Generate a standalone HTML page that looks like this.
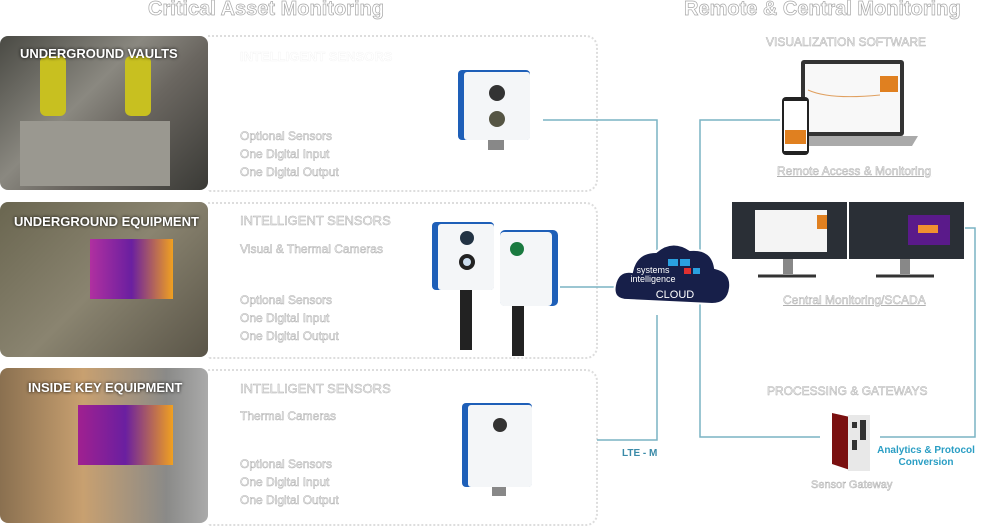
<!DOCTYPE html>
<html><head><meta charset="utf-8"><style>
body{margin:0;width:1000px;height:523px;background:#fff;overflow:hidden;position:relative;font-family:"Liberation Sans",sans-serif}
.o{position:absolute;color:#fff;-webkit-text-stroke:0.7px #a8a8a8;font-weight:bold;white-space:nowrap}
.t{position:absolute;color:#f4f4f4;-webkit-text-stroke:0.5px #b0b0b0;font-size:12px;white-space:nowrap;line-height:18px}
.lbl{position:absolute;color:#fff;font-weight:bold;font-size:13px;text-shadow:0 0 3px #000;white-space:nowrap}
.box{position:absolute;border:2px dotted #ddd;border-left:none;border-radius:0 12px 12px 0}
.photo{position:absolute;left:0;width:208px;border-radius:8px;overflow:hidden}
.u{text-decoration:underline}
</style></head><body>
<div class="o" style="left:148px;top:-2px;font-size:20px">Critical Asset Monitoring</div>
<div class="o" style="left:684px;top:-2px;font-size:20px">Remote &amp; Central Monitoring</div>

<div class="box" style="left:208px;top:35px;width:388px;height:153px"></div>
<div class="box" style="left:208px;top:202px;width:388px;height:153px"></div>
<div class="box" style="left:208px;top:369px;width:388px;height:153px"></div>

<div class="photo" style="top:36px;height:154px;background:linear-gradient(135deg,#4a4a44,#8a8880 40%,#6a6660 60%,#3a3a36)">
 <div style="position:absolute;left:40px;top:20px;width:26px;height:60px;background:#c8c020;border-radius:6px"></div>
 <div style="position:absolute;left:125px;top:20px;width:26px;height:60px;background:#c8c020;border-radius:6px"></div>
 <div style="position:absolute;left:20px;top:85px;width:150px;height:65px;background:#9a9890"></div>
</div>
<div class="lbl" style="left:20px;top:46px">UNDERGROUND VAULTS</div>
<div class="photo" style="top:202px;height:155px;background:linear-gradient(135deg,#6a6650,#8a8470 50%,#5a5548)">
 <div style="position:absolute;left:90px;top:37px;width:83px;height:60px;background:linear-gradient(90deg,#b030a0,#6a1fa0 50%,#f0a020)"></div>
</div>
<div class="lbl" style="left:14px;top:214px">UNDERGROUND EQUIPMENT</div>
<div class="photo" style="top:368px;height:155px;background:linear-gradient(90deg,#8a7050,#c8a070 40%,#8a8a88 80%,#aaa)">
 <div style="position:absolute;left:78px;top:37px;width:95px;height:60px;background:linear-gradient(90deg,#a02090,#6a1fa0 50%,#f0a020)"></div>
</div>
<div class="lbl" style="left:28px;top:380px">INSIDE KEY EQUIPMENT</div>

<div class="t" style="left:240px;top:48px;font-weight:bold;font-size:13px;color:#fff;-webkit-text-stroke:0.3px #eee">INTELLIGENT SENSORS</div>
<div class="t" style="left:240px;top:127px">Optional Sensors<br>One Digital Input<br>One Digital Output</div>
<div class="t" style="left:240px;top:212px;font-size:13px">INTELLIGENT SENSORS</div>
<div class="t" style="left:240px;top:240px">Visual &amp; Thermal Cameras</div>
<div class="t" style="left:240px;top:291px">Optional Sensors<br>One Digital Input<br>One Digital Output</div>
<div class="t" style="left:240px;top:380px;font-size:13px">INTELLIGENT SENSORS</div>
<div class="t" style="left:240px;top:407px">Thermal Cameras</div>
<div class="t" style="left:240px;top:455px">Optional Sensors<br>One Digital Input<br>One Digital Output</div>

<svg width="1000" height="523" style="position:absolute;left:0;top:0">
 <g fill="none" stroke="#7ab4c4" stroke-width="1.5">
  <path d="M543 120H657V250"/><path d="M560 287H622"/><path d="M597 440H657V315"/>
  <path d="M780 120H700V437H820"/><path d="M965 228H975V437H880"/>
 </g>
 <!-- sensor 1 -->
 <rect x="458" y="70" width="72" height="70" rx="4" fill="#1e5fb8"/><rect x="464" y="72" width="66" height="68" rx="3" fill="#f4f6f8"/>
 <circle cx="497" cy="93" r="8" fill="#333"/><circle cx="497" cy="119" r="8" fill="#554"/><rect x="488" y="140" width="16" height="10" fill="#888"/>
 <!-- sensor 2 -->
 <rect x="432" y="222" width="62" height="68" rx="4" fill="#1e5fb8"/><rect x="438" y="224" width="56" height="66" rx="3" fill="#f4f6f8"/>
 <circle cx="467" cy="238" r="7" fill="#234"/><circle cx="467" cy="262" r="8" fill="#222"/><circle cx="467" cy="262" r="4" fill="#cde"/>
 <rect x="460" y="290" width="12" height="60" fill="#222"/>
 <rect x="500" y="230" width="58" height="76" rx="5" fill="#1e5fb8"/><rect x="500" y="232" width="52" height="74" rx="4" fill="#f4f6f8"/>
 <circle cx="517" cy="249" r="7" fill="#1a7a40"/><rect x="512" y="306" width="12" height="50" fill="#222"/>
 <!-- sensor 3 -->
 <rect x="462" y="403" width="70" height="84" rx="4" fill="#1e5fb8"/><rect x="468" y="405" width="64" height="82" rx="3" fill="#f4f6f8"/>
 <circle cx="500" cy="425" r="7" fill="#333"/><rect x="492" y="487" width="14" height="9" fill="#888"/>
 <!-- cloud -->
 <path d="M628 300 Q612 300 615 285 Q618 270 632 272 Q636 252 656 252 Q672 238 690 250 Q712 248 715 268 Q732 272 730 288 Q728 304 712 304 Z" fill="#171f49" stroke="#fff" stroke-width="2"/>
 <rect x="668" y="259" width="10" height="7" fill="#2aa0e0"/><rect x="680" y="259" width="10" height="7" fill="#2aa0e0"/><rect x="684" y="268" width="7" height="6" fill="#e03030"/><rect x="693" y="268" width="7" height="6" fill="#2aa0e0"/>
 <text x="653" y="273" fill="#fff" font-size="9" font-family="Liberation Sans" text-anchor="middle">systems</text>
 <text x="653" y="282" fill="#fff" font-size="9" font-family="Liberation Sans" text-anchor="middle">intelligence</text>
 <text x="675" y="298" fill="#fff" font-size="11" font-family="Liberation Sans" text-anchor="middle">CLOUD</text>
 <text x="622" y="456" fill="#3a8aa8" font-size="10" font-weight="bold" font-family="Liberation Sans">LTE - M</text>
 <!-- laptop -->
 <rect x="801" y="60" width="103" height="76" rx="3" fill="#333"/><rect x="805" y="64" width="95" height="68" fill="#f8f8f8"/>
 <path d="M808 90 Q830 100 880 95" stroke="#e0a060" fill="none"/><rect x="880" y="76" width="18" height="16" fill="#e08020"/>
 <path d="M790 136H918L912 146H796Z" fill="#aaa"/>
 <rect x="782" y="97" width="27" height="58" rx="4" fill="#222"/><rect x="784" y="101" width="23" height="50" fill="#fff"/><rect x="785" y="130" width="21" height="14" fill="#e08020"/>
 <!-- monitors -->
 <rect x="732" y="202" width="115" height="57" fill="#2a2f36"/><rect x="755" y="210" width="72" height="42" fill="#f4f4f4"/><rect x="817" y="215" width="10" height="14" fill="#e08020"/>
 <rect x="849" y="202" width="115" height="57" fill="#2a2f36"/><rect x="908" y="215" width="42" height="30" fill="#5a1a8a"/><rect x="918" y="225" width="20" height="8" fill="#f09030"/>
 <path d="M783 259h10v15h-10z M900 259h10v15h-10z" fill="#888"/><path d="M758 276h58 M876 276h58" stroke="#333" stroke-width="3"/>
 <!-- gateway -->
 <path d="M832 413 L850 417 V470 L832 464Z" fill="#7a1010"/><rect x="848" y="415" width="22" height="56" fill="#e8e8e8"/>
 <rect x="852" y="422" width="5" height="6" fill="#333"/><rect x="860" y="420" width="6" height="20" fill="#333"/><rect x="852" y="440" width="5" height="10" fill="#333"/>
</svg>
<div class="t" style="left:766px;top:33px;font-size:12px">VISUALIZATION SOFTWARE</div>
<div class="t u" style="left:777px;top:162px">Remote Access &amp; Monitoring</div>
<div class="t u" style="left:783px;top:291px">Central Monitoring/SCADA</div>
<div class="t" style="left:767px;top:382px;font-size:12px">PROCESSING &amp; GATEWAYS</div>
<div style="position:absolute;left:876px;top:445px;color:#2a9ec4;font-weight:bold;font-size:10px;text-align:center;line-height:12px;width:100px">Analytics &amp; Protocol<br>Conversion</div>
<div class="t" style="left:811px;top:476px;font-size:11px">Sensor Gateway</div>
</body></html>
